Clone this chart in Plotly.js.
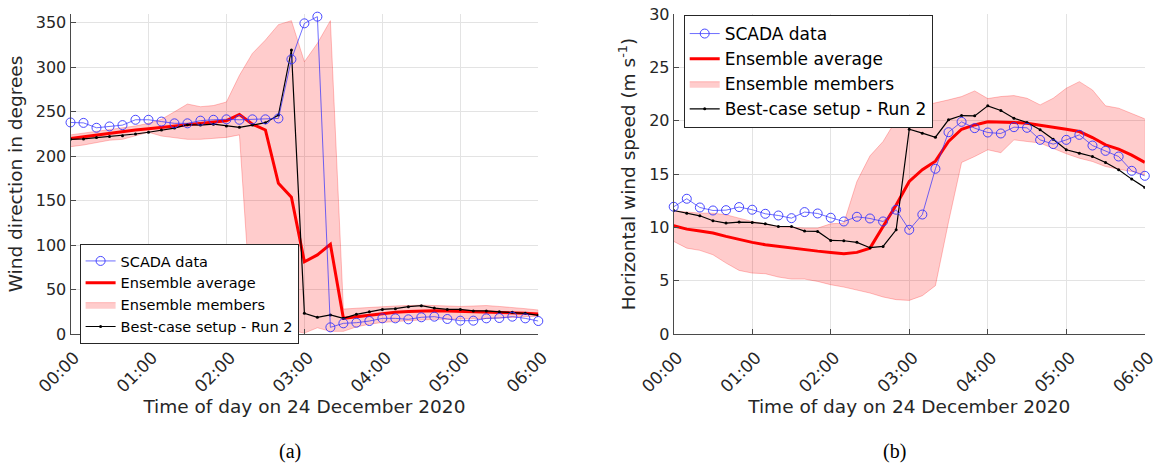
<!DOCTYPE html>
<html>
<head>
<meta charset="utf-8">
<script src="https://cdn.plot.ly/plotly-3.0.1.min.js"></script>
<style>html,body{margin:0;padding:0;background:#fff;}#chart{width:1157px;height:464px;}</style>
</head>
<body>
<div id="chart"></div>
<script>
// Time stamps (10-minute resolution) on 24 December 2020
const day = '2020-12-24 ';
const times = ['00:00','00:10','00:20','00:30','00:40','00:50','01:00','01:10','01:20','01:30','01:40','01:50',
  '02:00','02:10','02:20','02:30','02:40','02:50','03:00','03:10','03:20','03:30','03:40','03:50',
  '04:00','04:10','04:20','04:30','04:40','04:50','05:00','05:10','05:20','05:30','05:40','05:50','06:00'];
const hourLabels = ['00:00','01:00','02:00','03:00','04:00','05:00','06:00'];

// (a) Wind direction in degrees
const scadaDir = [238, 237.5, 232, 233.5, 235, 241, 241, 239, 237, 237, 240, 241, 241.5, 241, 241.5, 241.5, 242.5, 309, 349.5, 357,
  7.5, 12, 12.7, 14.6, 17.6, 17.6, 16.5, 18.8, 19.5, 16.9, 15, 15, 17.6, 18, 19.5, 17.6, 14.6];
const avgDir = [220, 222, 224, 226, 228, 229.5, 231, 232.5, 234, 235, 236.5, 238, 240, 247, 236, 229.5, 169.5, 153.8, 81.3, 89, 101,
  17.6, 19.5, 21.4, 23.3, 24.4, 25.3, 26, 26.2, 26, 25.6, 25.3, 25, 24.4, 24, 23.3, 22.5];
const bestDir = [219, 219.5, 221, 222.3, 223, 225, 227, 229.5, 231.7, 235.5, 235, 236, 234, 232.5, 235, 237.7, 246.3, 319.5,
  23.3, 18.8, 21.4, 17.6, 22.1, 25, 27.7, 28.5, 30.7, 31.9, 29.2, 27.7, 27.7, 26, 26, 25, 24.4, 23.3, 21];
const upperDir = [224, 226, 228, 230, 232, 234, 237, 241.5, 250, 258.7, 255.7, 257, 261, 291, 315.7, 330.7, 348, 352.5, 306.3, 327, 352.5,
  28, 29, 30, 31, 31.5, 32, 32.5, 32, 31.5, 31, 31.5, 32, 31, 30, 28.5, 27];
const lowerDir = [210.7, 212.6, 215, 218, 219, 222.7, 227, 222.7, 220.8, 219, 219, 220, 221.2, 224,
  5, 8, 6, 4, 1, 7, 3, 3, 8, 11, 13, 14, 15, 16, 16.5, 16.5, 16.5, 17, 17.5, 18, 18.5, 19.5, 20];

// (b) Horizontal wind speed in m/s
const scadaWS = [11.93, 12.68, 11.86, 11.58, 11.61, 11.9, 11.65, 11.27, 11.11, 10.86, 11.43, 11.3, 10.9, 10.55, 10.99, 10.83, 10.55,
  11.65, 9.77, 11.2, 15.49, 18.92, 19.89, 19.3, 18.89, 18.8, 19.39, 19.33, 18.2, 17.8, 18.2, 18.67, 17.67, 17.17, 16.64, 15.3, 14.83];
const avgWS = [10.15, 9.83, 9.65, 9.46, 9.15, 8.84, 8.59, 8.37, 8.21, 8.05, 7.9, 7.77, 7.65, 7.52, 7.65, 8.05, 10.08, 12.1, 14.3,
  15.4, 16.2, 18.05, 19.2, 19.6, 19.89, 19.89, 19.83, 19.76, 19.58, 19.45, 19.2, 18.98, 18.42, 17.73, 17.33, 16.77, 16.08];
const bestWS = [11.58, 11.33, 11.08, 10.62, 10.4, 10.49, 10.46, 10.33, 10.08, 10.08, 9.65, 9.62, 8.77, 8.74, 8.59, 8.09, 8.21, 9.77,
  19.2, 18.83, 18.45, 20.08, 20.48, 20.45, 21.39, 20.95, 20.23, 19.83, 19.14, 18.26, 17.27, 16.95, 16.64, 16.08, 15.39, 14.52, 13.74];
const upperWS = [11.55, 11.43, 11.33, 11.33, 11.18, 10.86, 10.55, 10.33, 10.08, 10.02, 9.93, 9.93, 10.33, 10.4, 14.3, 16.7, 18.05,
  20.08, 20.95, 21.39, 21.64, 21.95, 22.26, 22.79, 22.07, 22.26, 22.35, 22.1, 21.48, 22.1, 23.04, 23.66, 22.88, 21.39, 21.17, 20.7, 20.17];
const lowerWS = [8.68, 8.05, 7.84, 7.43, 6.65, 5.96, 5.71, 5.65, 5.34, 5.15, 5.15, 4.93, 4.62, 4.4, 4.15, 3.84, 3.47, 3.22, 3.15,
  3.59, 4.53, 10.5, 16.08, 16.64, 17.27, 17.0, 18.2, 18.05, 17.9, 17.42, 16.9, 16.48, 16.17, 15.7, 15.45, 15.24, 14.92];

const x = times.map(t => day + t);
const xBand = x.concat(x.slice().reverse());
const tickDates = hourLabels.map(t => day + t);

const TXT = '#262626';
const GRID = '#e3e3e3';

function panel(scada, avg, best, upper, lower, xa, ya, leg) {
  return [
    { type: 'scatter', mode: 'lines', x: xBand, y: upper.concat(lower.slice().reverse()),
      fill: 'toself', fillcolor: 'rgba(255,0,0,0.2)', line: { color: 'rgba(255,0,0,0.3)', width: 0.8 },
      name: 'Ensemble members', xaxis: xa, yaxis: ya, legend: leg, legendrank: 3, hoverinfo: 'skip' },
    { type: 'scatter', mode: 'lines', x: x, y: avg, line: { color: '#ff0000', width: 3 },
      name: 'Ensemble average', xaxis: xa, yaxis: ya, legend: leg, legendrank: 2 },
    { type: 'scatter', mode: 'lines+markers', x: x, y: best, line: { color: '#000000', width: 1.2 },
      marker: { symbol: 'circle', size: 3, color: '#000000' },
      name: 'Best-case setup - Run 2', xaxis: xa, yaxis: ya, legend: leg, legendrank: 4 },
    { type: 'scatter', mode: 'lines+markers', x: x, y: scada, line: { color: 'rgba(40,40,255,0.85)', width: 0.8 },
      marker: { symbol: 'circle-open', size: 9, color: '#3333ff', line: { width: 0.9 } }, cliponaxis: false,
      name: 'SCADA data', xaxis: xa, yaxis: ya, legend: leg, legendrank: 1 }
  ];
}

const data = panel(scadaDir, avgDir, bestDir, upperDir, lowerDir, 'x', 'y', 'legend')
  .concat(panel(scadaWS, avgWS, bestWS, upperWS, lowerWS, 'x2', 'y2', 'legend2'));

const W = 1157, H = 464;
function xAxis(d0, d1, anchor) {
  return {
    domain: [d0 / W, d1 / W], anchor: anchor, type: 'date',
    range: [day + '00:00', day + '06:00'],
    tickvals: tickDates, ticktext: hourLabels, tickangle: -45,
    tickfont: { size: 17, color: TXT }, ticklabelstandoff: 6, ticklabelshift: 4, ticklabeloverflow: 'allow',
    showgrid: true, gridcolor: GRID, gridwidth: 1,
    showline: true, linecolor: '#4a4a4a', linewidth: 1, ticks: 'inside', ticklen: 5, tickcolor: '#4a4a4a',
    zeroline: false, automargin: false,
    title: { text: 'Time of day on 24 December 2020', font: { size: 18.5, color: TXT }, standoff: 0 }
  };
}
function yAxis(range, dtick, title, anchor) {
  return {
    domain: [(H - 334) / H, (H - 14) / H], anchor: anchor, range: range, dtick: dtick,
    tickfont: { size: 16, color: TXT }, showgrid: true, gridcolor: GRID, gridwidth: 1,
    showline: true, linecolor: '#4a4a4a', linewidth: 1, ticks: 'inside', ticklen: 5, tickcolor: '#4a4a4a',
    zeroline: false, automargin: false,
    title: { text: title, font: { size: 18.5, color: TXT }, standoff: 8 }
  };
}
function legendAt(px, py, fs) {
  return {
    x: px / W, y: (H - py) / H, xref: 'paper', yref: 'paper', xanchor: 'left', yanchor: 'top',
    bgcolor: '#ffffff', bordercolor: '#262626', borderwidth: 1,
    font: { size: fs, color: '#000000', family: 'DejaVu Sans' }, tracegroupgap: 0, itemwidth: 30,
    traceorder: 'normal'
  };
}

const layout = {
  width: W, height: H,
  margin: { l: 0, r: 0, t: 0, b: 0 },
  paper_bgcolor: '#ffffff', plot_bgcolor: '#ffffff',
  font: { family: 'DejaVu Sans', color: TXT },
  showlegend: true,
  xaxis: xAxis(70.5, 538.3, 'y'),
  yaxis: yAxis([0, 360], 50, 'Wind direction in degrees', 'x'),
  xaxis2: xAxis(673.7, 1144.8, 'y2'),
  yaxis2: yAxis([0, 30], 5, 'Horizontal wind speed (m s<sup>-1</sup>)', 'x2'),
  legend: legendAt(79.6, 244, 14.5),
  legend2: legendAt(683.7, 15, 17),
  annotations: [
    { text: '(a)', x: 290 / W, y: (H - 451) / H, xref: 'paper', yref: 'paper', showarrow: false,
      xanchor: 'center', yanchor: 'middle', font: { family: 'Liberation Serif', size: 20, color: '#000000' } },
    { text: '(b)', x: 894 / W, y: (H - 451) / H, xref: 'paper', yref: 'paper', showarrow: false,
      xanchor: 'center', yanchor: 'middle', font: { family: 'Liberation Serif', size: 20, color: '#000000' } }
  ]
};

Plotly.newPlot('chart', data, layout, { staticPlot: true, displayModeBar: false });
</script>
</body>
</html>
